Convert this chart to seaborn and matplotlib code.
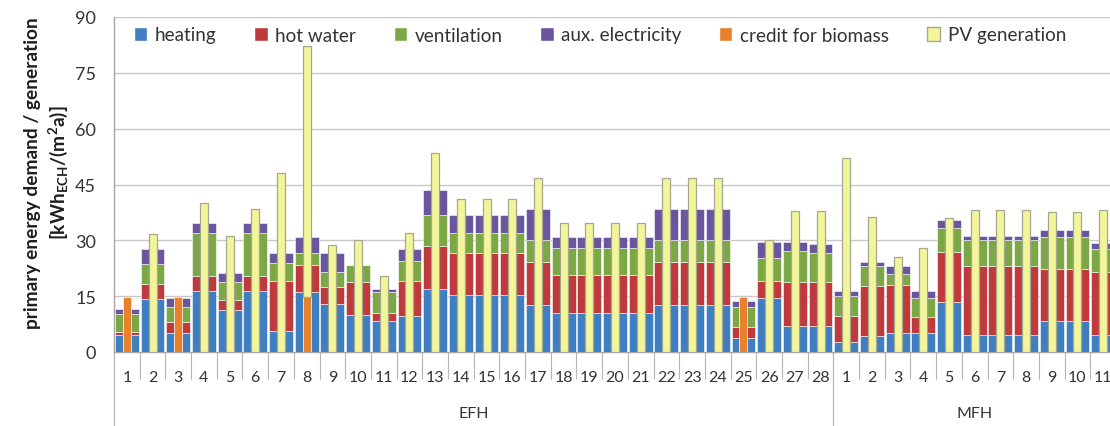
import numpy as np
import matplotlib
matplotlib.use("Agg")
import matplotlib.pyplot as plt
import seaborn as sns
from matplotlib.patches import Patch

# building labels: 28 single family houses, 11 multi family houses
group_names = ["EFH", "MFH"]
group_sizes = [28, 11]
numbers = [str(i) for i in range(1, 29)] + [str(i) for i in range(1, 12)]

# demand components, kWh/(m2a)
heating = [4.5, 14.2, 5.0, 16.3, 11.3, 16.3, 5.7, 16.0, 13.0, 10.0,
           8.2, 9.7, 16.9, 15.2, 15.2, 15.2, 12.7, 10.4, 10.4, 10.4,
           10.4, 12.7, 12.7, 12.7, 3.7, 14.5, 6.9, 6.9,
           2.6, 4.4, 5.1, 5.1, 13.3, 4.6, 4.6, 4.6, 8.2, 8.2, 4.6]
hot_water = [1.0, 4.0, 3.1, 4.2, 2.7, 4.2, 13.3, 7.4, 4.5, 8.7,
             2.4, 9.3, 11.6, 11.3, 11.3, 11.3, 11.6, 10.2, 10.2, 10.2,
             10.2, 11.6, 11.6, 11.6, 3.1, 4.5, 12.0, 11.8,
             7.1, 13.2, 12.9, 4.4, 13.6, 18.4, 18.4, 18.4, 14.1, 14.1, 17.0]
ventilation = [4.8, 5.4, 4.0, 11.6, 4.7, 11.6, 5.0, 3.1, 4.0, 4.6,
               5.4, 5.5, 8.3, 5.4, 5.4, 5.4, 5.7, 7.3, 7.3, 7.3,
               7.3, 5.7, 5.7, 5.7, 5.3, 6.2, 8.3, 8.0,
               5.4, 5.5, 2.9, 5.0, 6.5, 7.0, 7.0, 7.0, 8.7, 8.7, 6.2]
aux_el = [1.3, 4.0, 2.3, 2.5, 2.5, 2.5, 2.7, 4.4, 5.0, 0.0,
          0.9, 3.1, 6.7, 4.9, 4.9, 4.9, 8.3, 3.0, 3.0, 3.0,
          3.0, 8.3, 8.3, 8.3, 1.7, 4.4, 2.4, 2.4,
          1.3, 1.2, 2.1, 1.8, 2.1, 1.2, 1.2, 1.2, 1.7, 1.7, 1.4]

# generation side
biomass = [14.8, 0, 14.8, 0, 0, 0, 0, 14.8, 0, 0,
           0, 0, 0, 0, 0, 0, 0, 0, 0, 0,
           0, 0, 0, 0, 14.8, 0, 0, 0,
           0, 0, 0, 0, 0, 0, 0, 0, 0, 0, 0]
pv = [0, 31.6, 0, 39.9, 31.2, 38.3, 48.0, 67.3, 28.8, 30.1,
      20.5, 32.1, 53.4, 41.0, 41.0, 41.0, 46.8, 34.6, 34.6, 34.6,
      34.6, 46.8, 46.8, 46.8, 0, 30.1, 37.9, 37.9,
      52.0, 36.3, 25.4, 27.9, 35.9, 38.1, 38.1, 38.1, 37.7, 37.7, 38.1]

c_heat = "#3f7ec1"
c_hw = "#be3a3c"
c_vent = "#7ba844"
c_aux = "#6a559f"
c_bio = "#e8802c"
c_pv = "#f3f59b"
c_pv_edge = "#a3a88e"
txt = "#333333"

sns.set_style("white")
plt.rcParams["font.family"] = ["Lato", "DejaVu Sans"]
plt.rcParams["mathtext.fontset"] = "custom"
plt.rcParams["mathtext.rm"] = "Lato"
plt.rcParams["mathtext.bf"] = "Lato:bold"

n = len(numbers)
x = np.arange(n)
w = 0.31

fig = plt.figure(figsize=(11.1, 4.27), dpi=100)
ax = fig.add_axes([114 / 1110, 74 / 427, 1002 / 1110, 335 / 427])

layers = [(heating, c_heat), (hot_water, c_hw), (ventilation, c_vent), (aux_el, c_aux)]
for off in (-w, w):
    bottom = np.zeros(n)
    for vals, col in layers:
        vals = np.array(vals)
        ax.bar(x + off, vals, w, bottom=bottom, color=col,
               edgecolor="white", linewidth=0.4, zorder=3)
        bottom += vals

bio = np.array(biomass)
pvv = np.array(pv)
m = bio > 0
ax.bar(x[m], bio[m], w, color=c_bio, edgecolor="white", linewidth=0.4, zorder=3)
m = pvv > 0
ax.bar(x[m], pvv[m], w, bottom=bio[m], color=c_pv, edgecolor=c_pv_edge,
       linewidth=0.9, zorder=3)

ax.set_xlim(-0.5, n - 0.5)
ax.set_ylim(0, 90)
ax.set_yticks(np.arange(0, 91, 15))
ax.yaxis.grid(True, color="#c8c8c8", linewidth=1.0, zorder=0)
ax.set_axisbelow(True)
ax.tick_params(axis="y", length=0, pad=13, labelsize=13, labelcolor=txt)
ax.set_xticks(x, numbers)
ax.tick_params(axis="x", length=0, pad=13, labelsize=11.5, labelcolor=txt)
for s in ("top", "right"):
    ax.spines[s].set_visible(False)
for s in ("left", "bottom"):
    ax.spines[s].set_color("#a6a6a6")
    ax.spines[s].set_linewidth(1.0)

# category separators below the axis
trans = ax.get_xaxis_transform()
ax.vlines(np.arange(-0.5, n, 1), -27 / 335, 0, transform=trans,
          colors="#b5b5b5", linewidth=0.8, clip_on=False)
edges = np.concatenate([[0], np.cumsum(group_sizes)]) - 0.5
ax.vlines(edges[:-1], -80 / 335, 0, transform=trans,
          colors="#b5b5b5", linewidth=0.8, clip_on=False)
for name, a, b in zip(group_names, edges[:-1], edges[1:]):
    ax.text((a + b) / 2, -61 / 335, name, transform=trans, ha="center",
            va="center", fontsize=11.5, color=txt)

# y label in two lines
fig.text(33 / 1110, 1 - 173 / 427, "primary energy demand / generation",
         rotation=90, ha="center", va="center", fontsize=13.8,
         fontweight="bold", color="#1e1e1e")
fig.text(58 / 1110, 1 - 173 / 427, r"$\mathbf{[kWh_{ECH}/(m^{2}a)]}$",
         rotation=90, ha="center", va="center", fontsize=13.8, color="#1e1e1e")

handles = [Patch(facecolor=c_heat, edgecolor="white"),
           Patch(facecolor=c_hw, edgecolor="white"),
           Patch(facecolor=c_vent, edgecolor="white"),
           Patch(facecolor=c_aux, edgecolor="white"),
           Patch(facecolor=c_bio, edgecolor="white"),
           Patch(facecolor=c_pv, edgecolor=c_pv_edge)]
labels = ["heating", "hot water", "ventilation", "aux. electricity",
          "credit for biomass", "PV generation"]
fig.legend(handles, labels, loc="center", bbox_to_anchor=(600 / 1110, 1 - 36 / 427),
           ncol=6, frameon=False, fontsize=13.6, handlelength=0.7, handleheight=0.7,
           handletextpad=0.4, columnspacing=2.0, labelcolor=txt)

fig.savefig("out.png", dpi=100)
